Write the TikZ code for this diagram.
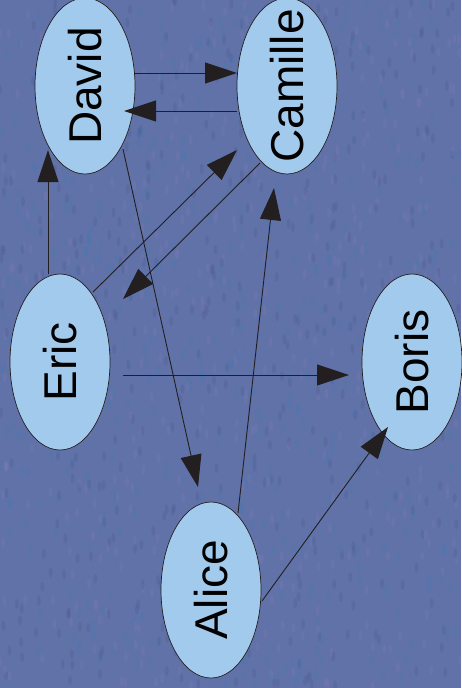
\documentclass[tikz,border=0pt]{standalone}
\usepackage{fontspec}
\setmainfont{Liberation Sans}
\usetikzlibrary{arrows.meta,calc,shapes.geometric}
\definecolor{bgblue}{RGB}{96,114,168}
\definecolor{speckA}{RGB}{135,125,185}
\definecolor{speckB}{RGB}{60,125,180}
\definecolor{speckC}{RGB}{72,84,138}
\definecolor{nodefill}{RGB}{162,202,236}
\definecolor{edgecol}{RGB}{35,31,32}
\tikzset{
  person/.style={ellipse, draw=edgecol, line width=0.7pt, fill=nodefill,
    minimum width=100pt, minimum height=176pt, inner sep=0pt,
    font=\fontsize{46}{50}\selectfont},
  link/.style={draw=edgecol, line width=0.9pt,
    -{Triangle[length=32pt,width=21pt]}},
}
\newcommand{\vlabel}[1]{\rotatebox{90}{\makebox[0pt]{#1}}}
\begin{document}
\begin{tikzpicture}[x=1pt,y=-1pt]
\useasboundingbox (0,0) rectangle (461,688);
\fill[bgblue] (0,0) rectangle (461,688);
\begin{scope}
\clip (0,0) rectangle (461,688);
\pgfmathsetseed{7}
\foreach \i in {1,...,1400}{
  \pgfmathsetmacro{\px}{rnd*461}
  \pgfmathsetmacro{\py}{rnd*688}
  \pgfmathsetmacro{\pc}{rnd}
  \ifdim\pc pt<0.33pt
    \fill[speckA, opacity=0.22] (\px,\py) ellipse (2 and 5);
  \else\ifdim\pc pt<0.66pt
    \fill[speckB, opacity=0.22] (\px,\py) ellipse (2 and 5);
  \else
    \fill[speckC, opacity=0.22] (\px,\py) ellipse (2 and 5);
  \fi\fi
}
\end{scope}

\node[person] (david) at (85,86) {\vlabel{David}};
\node[person] (cam) at (287,86) {\vlabel{Camille}};
\node[person] (eric) at (60,362) {\vlabel{Eric}};
\node[person] (boris) at (412,362) {\vlabel{Boris}};
\node[person] (alice) at (211,590) {\vlabel{Alice}};

\draw[link] ($(david)+(50,-13)$) -- ($(cam)+(-50,-13)$);
\draw[link] ($(cam)+(-50,25)$) -- ($(david)+(39,25)$);
\draw[link] ($(eric)+(-12,-88)$) -- ($(david)+(-37,64)$);
\draw[link] ($(eric)+(33,-70)$) -- ($(cam)+(-50,64)$);
\draw[link] ($(cam)+(-27,77)$) -- ($(eric)+(63,-63)$);
\draw[link] ($(david)+(38,63)$) -- ($(alice)+(-13,-103)$);
\draw[link] ($(alice)+(27,-77)$) -- ($(cam)+(-13,102)$);
\draw[link] ($(eric)+(63,13)$) -- ($(boris)+(-63,13)$);
\draw[link] ($(alice)+(51,11)$) -- ($(boris)+(-24,65)$);
\end{tikzpicture}
\end{document}
